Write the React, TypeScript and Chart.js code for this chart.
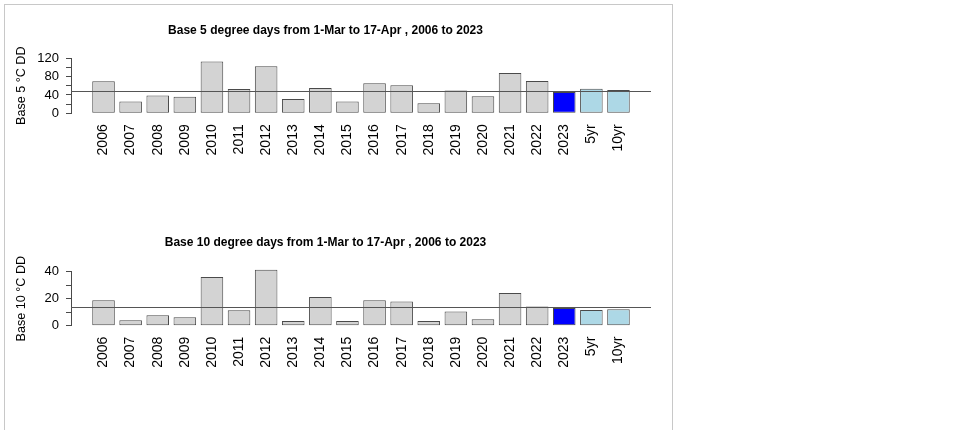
import React, { useEffect, useRef } from "react";
import { Chart, registerables } from "chart.js";

Chart.register(...registerables);

const categories = ["2006", "2007", "2008", "2009", "2010", "2011", "2012", "2013", "2014", "2015", "2016", "2017", "2018", "2019", "2020", "2021", "2022", "2023", "5yr", "10yr"];
const base5Values = [70, 25.5, 39, 36, 113, 53, 102.5, 31, 55, 25.5, 65.5, 61, 22, 49.5, 37, 88, 70.5, 46.5, 53.4, 50.5];
const base10Values = [18.8, 4, 7.7, 6.2, 36, 11.4, 41.5, 3.5, 21.2, 3.5, 18.8, 18, 3.5, 10.6, 4.7, 24.2, 14.3, 13.1, 11.6, 12.1];
const base5Mean = 48.7;
const base10Mean = 13.6;
const base5TickLabels = [0, 40, 80, 120];
const base10TickLabels = [0, 20, 40];
const currentYear = "2023";
const summaryCats = ["5yr", "10yr"];

const FONT = "'Liberation Sans', Arial, Helvetica, sans-serif";

const meanLinePlugin = {
  id: "meanLine",
  afterDatasetsDraw(chart: any, _args: any, opts: any) {
    const { ctx, chartArea, scales } = chart;
    const y = Math.round(scales.y.getPixelForValue(opts.value)) + 0.5;
    ctx.save();
    ctx.strokeStyle = opts.color;
    ctx.lineWidth = 1;
    ctx.beginPath();
    ctx.moveTo(chartArea.left, y);
    ctx.lineTo(chartArea.right, y);
    ctx.stroke();
    ctx.restore();
  },
};

type Spec = {
  title: string;
  yTitle: string;
  values: number[];
  mean: number;
  yMax: number;
  step: number;
  tickLabels: number[];
  width: number;
  height: number;
  titleTop: number;
  titleBottom: number;
  areaBottom: number;
};

function barColor(c: string) {
  if (c === currentYear) return "#0000FF";
  if (summaryCats.includes(c)) return "#ADD8E6";
  return "#D3D3D3";
}

function BarChart({ spec, top }: { spec: Spec; top: number }) {
  const ref = useRef<HTMLCanvasElement | null>(null);
  useEffect(() => {
    if (!ref.current) return;
    const n = categories.length;
    const chart = new Chart(ref.current, {
      type: "bar",
      data: {
        datasets: [
          {
            data: spec.values.map((v, i) => ({ x: i, y: v })) as any,
            backgroundColor: categories.map(barColor),
            borderColor: "#4a4a4a",
            borderWidth: 1,
            borderSkipped: false,
            categoryPercentage: 1,
            barPercentage: 0.833,
            clip: false as any,
          },
        ],
      },
      options: {
        animation: false,
        responsive: false,
        events: [],
        layout: { padding: 0 },
        plugins: {
          legend: { display: false },
          tooltip: { enabled: false },
          title: {
            display: true,
            text: spec.title,
            color: "#000",
            font: { family: FONT, size: 12, weight: "bold" },
            padding: { top: spec.titleTop, bottom: spec.titleBottom },
          },
          meanLine: { value: spec.mean, color: "#555" },
        } as any,
        scales: {
          x: {
            type: "linear",
            offset: false,
            min: -1.2,
            max: n - 1 + 1.2,
            grid: { display: false, drawTicks: false },
            border: { display: false },
            afterBuildTicks: (scale: any) => {
              scale.ticks = categories.map((_, i) => ({ value: i }));
            },
            afterFit: (scale: any) => {
              scale.height = spec.height - spec.areaBottom;
            },
            ticks: {
              autoSkip: false,
              minRotation: 90,
              maxRotation: 90,
              padding: 11,
              color: "#000",
              font: { family: FONT, size: 14 },
              callback: (v: any) => categories[Math.round(Number(v))] ?? "",
            },
          },
          y: {
            min: 0,
            max: spec.yMax,
            afterFit: (scale: any) => {
              scale.width = 71;
            },
            grid: { drawOnChartArea: false, drawTicks: true, tickLength: 5, color: "#4a4a4a" },
            border: { display: true, color: "#4a4a4a" },
            ticks: {
              autoSkip: false,
              stepSize: spec.step,
              padding: 7,
              color: "#000",
              font: { family: FONT, size: 13 },
              callback: (v: any) => (spec.tickLabels.includes(Number(v)) ? String(v) : ""),
            },
            title: {
              display: true,
              text: spec.yTitle,
              color: "#000",
              font: { family: FONT, size: 12.6 },
              padding: { top: 13.5, bottom: 0 },
            },
          },
        },
      },
      plugins: [meanLinePlugin],
    });
    return () => chart.destroy();
  }, [spec]);
  return (
    <canvas
      ref={ref}
      width={spec.width}
      height={spec.height}
      style={{ position: "absolute", left: 0, top, width: spec.width, height: spec.height, display: "block" }}
    />
  );
}

const topSpec: Spec = {
  title: "Base 5 degree days from 1-Mar to 17-Apr , 2006 to 2023",
  yTitle: "Base 5 °C DD",
  values: base5Values,
  mean: base5Mean,
  yMax: 120,
  step: 20,
  tickLabels: base5TickLabels,
  width: 651,
  height: 170,
  titleTop: 23.3,
  titleBottom: 20.5,
  areaBottom: 113.3,
};

const bottomSpec: Spec = {
  title: "Base 10 degree days from 1-Mar to 17-Apr , 2006 to 2023",
  yTitle: "Base 10 °C DD",
  values: base10Values,
  mean: base10Mean,
  yMax: 40,
  step: 10,
  tickLabels: base10TickLabels,
  width: 651,
  height: 260,
  titleTop: 65.3,
  titleBottom: 22,
  areaBottom: 155.7,
};

export default function App() {
  return (
    <div style={{ position: "absolute", left: 0, top: 0, width: 973, height: 430, overflow: "hidden", background: "#fff" }}>
      <div style={{ position: "absolute", left: 4, top: 4, width: 667, height: 440, border: "1px solid #c8c8c8" }} />
      <BarChart spec={topSpec} top={0} />
      <BarChart spec={bottomSpec} top={170} />
    </div>
  );
}
